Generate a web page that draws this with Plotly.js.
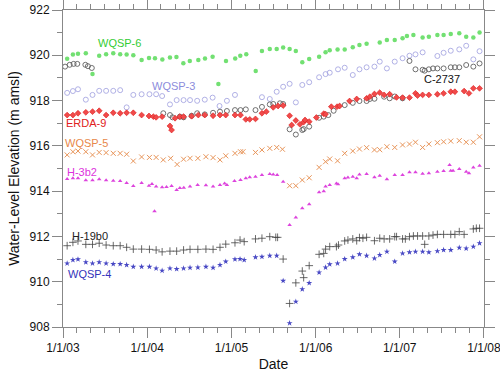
<!DOCTYPE html>
<html>
<head>
<meta charset="utf-8">
<script src="https://cdn.plot.ly/plotly-3.0.1.min.js"></script>
<style>html,body{margin:0;padding:0;background:#fff;}#chart{width:500px;height:373px;}</style>
</head>
<body>
<div id="chart"></div>
<script>
// ---- Data ----
const wqsp6Dates = ['2003-01-19','2003-02-13','2003-03-07','2003-04-10','2003-05-09','2003-06-07','2003-07-07','2003-08-07','2003-09-06','2003-10-04','2003-11-02','2003-12-08','2004-01-09','2004-02-04','2004-03-07','2004-04-09','2004-05-07','2004-06-06','2004-07-04','2004-08-10','2004-09-08','2004-10-11','2004-11-05','2004-12-08','2005-01-17','2005-02-08','2005-03-06','2005-04-16','2005-05-13','2005-06-16','2005-07-16','2005-08-13','2005-09-10','2005-10-07','2005-11-04','2005-12-04','2006-01-16','2006-02-13','2006-03-03','2006-04-06','2006-05-07','2006-06-11','2006-07-10','2006-08-10','2006-10-06','2006-11-06','2006-12-10','2007-01-13','2007-02-01','2007-03-01','2007-04-10','2007-05-07','2007-06-13','2007-07-10','2007-08-10','2007-09-16','2007-10-16','2007-11-16','2007-12-13'];
const wqsp6Vals = [919.85,920.04,920.07,920.09,919.17,919.98,920.05,920.09,920.05,920.04,920.00,919.79,919.88,919.87,919.81,919.90,919.92,919.65,919.75,919.79,919.86,919.93,918.73,919.75,919.86,919.98,920.05,919.31,920.19,920.28,920.28,920.34,920.28,920.19,919.69,919.84,919.94,920.13,920.22,920.26,920.26,920.35,920.45,920.51,920.57,920.67,920.67,920.75,920.85,920.90,920.78,920.82,920.90,920.90,920.94,920.97,920.82,920.79,921.01];

const wqsp3Dates = ['2003-01-19','2003-02-13','2003-03-07','2003-04-10','2003-05-09','2003-06-07','2003-07-07','2003-08-07','2003-09-06','2003-10-04','2003-11-02','2003-12-08','2004-01-11','2004-02-09','2004-03-06','2004-04-09','2004-05-08','2004-06-07','2004-07-05','2004-08-05','2004-09-07','2004-10-11','2004-11-10','2004-12-12','2005-01-16','2005-05-13','2005-06-16','2005-07-16','2005-08-13','2005-09-10','2005-10-07','2005-11-04','2005-12-04','2006-01-16','2006-02-13','2006-03-03','2006-04-08','2006-05-07','2006-06-11','2006-07-10','2006-08-10','2006-09-13','2006-10-06','2006-11-06','2006-12-10','2007-01-13','2007-02-12','2007-03-10','2007-04-10','2007-06-13','2007-07-10','2007-08-10','2007-09-16','2007-10-16','2007-11-16','2007-12-13'];
const wqsp3Vals = [918.34,918.42,918.50,918.04,918.25,918.43,918.43,918.43,918.46,917.70,918.25,918.28,918.28,918.28,918.20,917.83,918.02,918.02,918.02,917.99,918.04,918.13,917.76,917.99,918.25,918.15,918.07,918.39,918.61,918.74,917.92,918.69,918.81,919.03,919.17,919.23,919.38,919.45,919.13,919.38,919.47,919.50,919.72,919.42,919.72,919.87,919.98,920.04,920.13,919.97,920.11,920.20,920.26,920.42,919.82,920.18];

const c2737Dates = ['2003-01-10','2003-01-30','2003-02-16','2003-03-04','2003-04-08','2003-04-19','2003-05-06','2004-03-11','2004-04-09','2004-04-20','2004-05-22','2004-06-07','2004-07-12','2004-08-05','2004-09-07','2004-10-13','2004-11-12','2004-12-12','2005-01-16','2005-02-09','2005-03-04','2005-04-15','2005-05-13','2005-06-16','2005-07-01','2005-07-30','2005-08-13','2005-09-10','2005-10-07','2005-11-04','2005-11-10','2005-12-04','2006-01-16','2006-02-05','2006-02-25','2006-03-20','2006-05-07','2006-06-11','2006-07-10','2006-08-10','2006-08-24','2006-09-13','2006-10-25','2006-11-18','2006-12-10','2007-01-13','2007-02-12','2007-03-10','2007-04-10','2007-04-19','2007-05-07','2007-05-25','2007-06-13','2007-07-10','2007-08-10','2007-08-28','2007-09-16','2007-10-16','2007-11-16','2007-12-13'];
const c2737Vals = [919.50,919.58,919.62,919.62,919.58,919.52,919.44,917.44,917.36,917.26,917.29,917.26,917.33,917.44,917.39,917.46,917.51,917.54,917.58,917.58,917.61,917.58,917.72,917.83,917.85,917.88,917.85,916.73,916.50,916.70,916.74,916.85,917.24,917.29,917.36,917.55,917.80,917.90,917.98,917.98,918.07,918.08,918.17,918.10,918.18,918.10,919.75,919.38,919.36,919.32,919.38,919.42,919.42,919.42,919.47,919.47,919.47,919.57,919.50,919.64];

const erda9Dates = ['2003-01-19','2003-02-13','2003-03-07','2003-04-10','2003-05-09','2003-06-07','2003-07-07','2003-08-07','2003-09-06','2003-10-04','2003-11-02','2003-12-08','2004-01-09','2004-01-28','2004-02-09','2004-03-06','2004-04-09','2004-04-16','2004-05-01','2004-05-22','2004-06-07','2004-07-12','2004-08-10','2004-09-07','2004-10-13','2004-11-12','2004-12-07','2005-01-16','2005-02-09','2005-03-04','2005-03-21','2005-04-15','2005-05-13','2005-06-01','2005-07-01','2005-07-22','2005-08-13','2005-09-10','2005-09-19','2005-10-07','2005-10-25','2005-11-10','2005-11-16','2005-12-04','2006-01-04','2006-02-05','2006-02-13','2006-03-10','2006-04-04','2006-04-15','2006-05-28','2006-06-28','2006-08-10','2006-08-24','2006-09-13','2006-10-06','2006-10-25','2006-11-18','2006-12-18','2007-01-13','2007-02-12','2007-03-10','2007-03-19','2007-04-10','2007-05-07','2007-06-13','2007-07-10','2007-08-10','2007-08-28','2007-10-07','2007-10-28','2007-11-16','2007-12-13','2008-01-13','2008-02-09'];
const erda9Vals = [917.36,917.36,917.44,917.48,917.51,917.55,917.36,917.46,917.44,917.46,917.46,917.36,917.32,917.29,917.26,917.29,916.88,916.70,917.22,917.29,917.29,917.31,917.36,917.36,917.33,917.36,917.36,917.36,917.36,917.17,917.17,917.19,917.44,917.51,917.70,917.76,917.78,917.33,916.92,917.12,916.95,917.05,917.14,917.07,917.25,917.42,917.40,917.73,917.73,917.76,917.98,918.07,918.10,918.17,918.29,918.35,918.25,918.28,918.14,918.13,918.13,918.32,918.22,918.25,918.25,918.28,918.32,918.39,918.39,918.42,918.32,918.54,918.54,918.35,918.35];

const wqsp5Dates = ['2003-01-19','2003-02-13','2003-03-07','2003-04-10','2003-05-09','2003-06-07','2003-07-07','2003-08-07','2003-09-06','2003-10-04','2003-11-02','2003-12-08','2004-01-11','2004-02-09','2004-03-11','2004-04-12','2004-05-10','2004-06-07','2004-07-05','2004-08-08','2004-09-12','2004-10-13','2004-11-12','2004-12-07','2005-01-16','2005-02-09','2005-02-20','2005-04-15','2005-05-13','2005-06-16','2005-07-16','2005-08-10','2005-09-10','2005-10-07','2005-11-04','2005-12-04','2006-01-16','2006-02-13','2006-03-03','2006-04-06','2006-05-07','2006-06-11','2006-07-10','2006-08-10','2006-09-13','2006-10-06','2006-11-06','2006-12-10','2007-01-13','2007-02-12','2007-03-10','2007-04-10','2007-05-07','2007-06-13','2007-07-10','2007-08-10','2007-09-16','2007-10-16','2007-11-16','2007-12-13'];
const wqsp5Vals = [915.60,915.74,915.77,915.74,915.60,915.71,915.70,915.67,915.67,915.63,915.33,915.51,915.49,915.49,915.38,915.45,915.18,915.41,915.45,915.45,915.52,915.48,915.38,915.56,915.67,915.74,915.74,915.71,915.82,915.89,915.93,915.85,914.24,914.24,914.49,914.59,915.05,915.30,915.42,915.34,915.67,915.77,915.86,915.92,915.82,915.83,915.96,915.93,916.04,916.08,916.16,915.93,916.08,916.14,916.18,916.21,916.23,916.16,916.16,916.40];

const h3b2Dates = ['2003-01-19','2003-02-13','2003-03-07','2003-04-10','2003-05-09','2003-06-07','2003-07-07','2003-08-07','2003-09-06','2003-10-04','2003-11-02','2003-12-08','2004-01-09','2004-01-22','2004-02-02','2004-02-09','2004-03-06','2004-03-25','2004-04-16','2004-05-08','2004-05-22','2004-06-08','2004-07-05','2004-08-07','2004-09-12','2004-10-13','2004-11-12','2004-12-02','2004-12-12','2005-01-14','2005-02-09','2005-03-04','2005-03-21','2005-04-15','2005-05-13','2005-06-16','2005-07-01','2005-07-18','2005-08-13','2005-09-10','2005-10-07','2005-11-04','2005-12-04','2006-01-16','2006-02-05','2006-02-13','2006-03-03','2006-04-01','2006-04-08','2006-05-07','2006-05-21','2006-06-11','2006-06-28','2006-07-10','2006-08-10','2006-09-13','2006-10-06','2006-11-06','2006-12-10','2007-01-13','2007-02-12','2007-03-10','2007-04-10','2007-05-07','2007-06-13','2007-07-10','2007-08-05','2007-08-10','2007-08-20','2007-09-16','2007-10-16','2007-10-28','2007-11-16','2007-12-13'];
const h3b2Vals = [914.54,914.57,914.57,914.48,914.48,914.52,914.48,914.46,914.45,914.36,914.23,914.36,914.24,914.32,913.11,914.20,914.17,914.18,914.23,914.05,914.14,914.15,914.20,914.27,914.26,914.20,914.27,914.34,914.27,914.45,914.49,914.57,914.61,914.64,914.71,914.76,914.74,914.71,914.42,912.50,912.84,913.24,913.42,913.95,914.00,914.20,914.27,914.34,914.30,914.57,914.60,914.64,914.57,914.74,914.76,914.61,914.68,914.52,914.71,914.71,914.83,914.83,914.77,914.79,914.86,914.89,915.15,914.90,914.90,914.98,914.86,914.79,915.04,915.12];

const h19b0Dates = ['2003-01-19','2003-02-13','2003-03-07','2003-04-10','2003-05-09','2003-06-07','2003-07-07','2003-08-07','2003-09-06','2003-10-04','2003-11-02','2003-12-08','2004-01-11','2004-02-09','2004-03-06','2004-04-09','2004-05-08','2004-06-07','2004-07-05','2004-08-08','2004-09-12','2004-10-13','2004-11-12','2004-12-07','2005-01-16','2005-02-07','2005-02-25','2005-04-15','2005-05-13','2005-06-16','2005-07-12','2005-07-20','2005-08-13','2005-09-10','2005-10-07','2005-11-04','2005-11-10','2005-12-04','2006-01-16','2006-02-05','2006-02-13','2006-03-03','2006-04-01','2006-04-10','2006-05-07','2006-05-21','2006-06-11','2006-06-28','2006-07-10','2006-07-25','2006-08-10','2006-09-13','2006-10-06','2006-10-25','2006-11-18','2006-12-10','2006-12-18','2007-01-13','2007-01-25','2007-02-12','2007-03-01','2007-03-19','2007-04-10','2007-04-19','2007-05-07','2007-05-25','2007-06-13','2007-07-10','2007-08-10','2007-08-28','2007-09-16','2007-10-07','2007-11-16','2007-11-29','2007-12-13'];
const h19b0Vals = [911.59,911.74,911.80,911.65,911.65,911.70,911.62,911.59,911.59,911.52,911.44,911.44,911.43,911.40,911.32,911.35,911.35,911.40,911.43,911.43,911.44,911.43,911.52,911.66,911.72,911.84,911.77,911.89,911.92,911.99,911.96,911.96,911.00,909.04,909.95,910.47,910.18,910.71,911.21,911.25,911.44,911.55,911.55,911.62,911.80,911.84,911.89,911.81,911.95,911.92,911.96,911.81,911.92,911.89,911.89,911.99,911.99,911.89,911.89,911.99,912.02,912.02,912.02,911.65,912.02,912.06,912.09,912.09,912.09,912.09,912.21,912.09,912.33,912.36,912.36];

const wqsp4Dates = ['2003-01-19','2003-02-13','2003-03-07','2003-04-10','2003-05-09','2003-06-07','2003-07-07','2003-08-07','2003-09-06','2003-10-04','2003-11-02','2003-12-08','2004-01-11','2004-02-09','2004-03-06','2004-04-09','2004-05-08','2004-06-07','2004-07-05','2004-08-08','2004-09-12','2004-10-13','2004-11-12','2004-12-07','2005-01-16','2005-02-07','2005-02-25','2005-04-15','2005-05-13','2005-06-16','2005-07-16','2005-08-13','2005-09-10','2005-10-07','2005-11-04','2005-12-04','2006-01-16','2006-02-13','2006-03-03','2006-04-06','2006-05-07','2006-06-11','2006-07-10','2006-08-10','2006-09-13','2006-10-06','2006-11-06','2006-12-10','2007-01-13','2007-02-12','2007-03-10','2007-04-10','2007-05-07','2007-06-13','2007-07-10','2007-08-10','2007-09-16','2007-10-16','2007-11-16','2007-12-13'];
const wqsp4Vals = [910.81,910.96,910.99,910.86,910.81,910.86,910.81,910.78,910.78,910.74,910.66,910.66,910.66,910.59,910.49,910.59,910.56,910.59,910.62,910.63,910.66,910.62,910.74,910.89,910.99,911.00,910.96,911.08,911.10,911.15,911.15,910.04,908.17,909.12,909.67,909.94,910.41,910.63,910.77,910.81,911.00,911.08,911.21,911.15,911.03,911.18,911.33,910.89,911.25,911.30,911.33,911.33,911.30,911.35,911.40,911.40,911.50,911.47,911.55,911.70];

const wellNames = ['WQSP-6','WQSP-3','C-2737','ERDA-9','WQSP-5','H-3b2','H-19b0','WQSP-4'];

// ---- Traces ----
function tr(name, x, y, marker) {
  return {type:'scatter', mode:'markers', name:name, x:x, y:y, marker:marker, cliponaxis:false, hoverinfo:'skip'};
}
const traces = [
  tr(wellNames[0], wqsp6Dates, wqsp6Vals, {symbol:'circle', size:4.5, color:'#72e072'}),
  tr(wellNames[1], wqsp3Dates, wqsp3Vals, {symbol:'circle-open', size:5, color:'#a8a8e2', line:{width:0.9}}),
  tr(wellNames[2], c2737Dates, c2737Vals, {symbol:'circle-open', size:5, color:'#606060', line:{width:0.9}}),
  tr(wellNames[3], erda9Dates, erda9Vals, {symbol:'diamond', size:4.5, color:'#f04a4a', line:{width:0.6, color:'#dd1818'}}),
  tr(wellNames[4], wqsp5Dates, wqsp5Vals, {symbol:'x-thin-open', size:5, color:'#e8955a', line:{width:1, color:'#e8955a'}}),
  tr(wellNames[5], h3b2Dates, h3b2Vals, {symbol:'triangle-up', size:4, color:'#dd44dd'}),
  tr(wellNames[6], h19b0Dates, h19b0Vals, {symbol:'cross-thin-open', size:5.5, color:'#444444', line:{width:0.8, color:'#444444'}}),
  tr(wellNames[7], wqsp4Dates, wqsp4Vals, {symbol:'star', size:4.5, color:'#4848c4'})
];

const labelFont = 'Arial, "Liberation Sans", sans-serif';
function lab(text, x, y, color) {
  return {text:text, x:x, y:y, xref:'x', yref:'y', showarrow:false, xanchor:'center', yanchor:'middle', font:{family:labelFont, size:11, color:color}};
}

const layout = {
  width:500, height:373,
  margin:{l:63, r:16, t:10, b:46},
  paper_bgcolor:'#fff', plot_bgcolor:'#fff',
  showlegend:false,
  font:{family:labelFont, size:12, color:'#111'},
  xaxis:{
    type:'date', range:['2003-01-01','2008-01-01 06:00'],
    tick0:'2003-01-01', dtick:'M12', tickformat:'%-m/%-d/%y',
    ticklabeloverflow:'allow',
    ticks:'outside', ticklen:10, tickcolor:'#888', tickwidth:1,
    showline:true, linecolor:'#888', linewidth:1, mirror:'ticks',
    showgrid:false, zeroline:false,
    minor:{dtick:'M2', ticks:'outside', ticklen:5, tickcolor:'#888', showgrid:false},
    tickfont:{size:12, color:'#111'},
    title:{text:'Date', font:{size:14, color:'#111'}, standoff:4}
  },
  yaxis:{
    range:[908, 922], dtick:2, tick0:908,
    ticks:'outside', ticklen:10, tickcolor:'#888', tickwidth:1,
    showline:true, linecolor:'#888', linewidth:1, mirror:'ticks',
    showgrid:false, zeroline:false,
    minor:{dtick:1, ticks:'outside', ticklen:5, tickcolor:'#888', showgrid:false},
    tickfont:{size:12, color:'#111'},
    title:{text:'Water-Level Elevation (m amsl)', font:{size:14, color:'#111'}, standoff:6}
  },
  annotations:[
    lab(wellNames[0], '2003-09-01', 920.54, '#33cc33'),
    lab(wellNames[1], '2004-04-26', 918.64, '#8c8cdc'),
    lab(wellNames[2], '2007-07-05', 918.95, '#111111'),
    lab(wellNames[3], '2003-04-10', 917.01, '#e02020'),
    lab(wellNames[4], '2003-04-14', 916.13, '#e8884a'),
    lab(wellNames[5], '2003-03-25', 914.84, '#dd33dd'),
    lab(wellNames[6], '2003-04-29', 912.02, '#222222'),
    lab(wellNames[7], '2003-04-27', 910.34, '#3333bb')
  ]
};

Plotly.newPlot('chart', traces, layout, {staticPlot:true, displayModeBar:false});
</script>
</body>
</html>
